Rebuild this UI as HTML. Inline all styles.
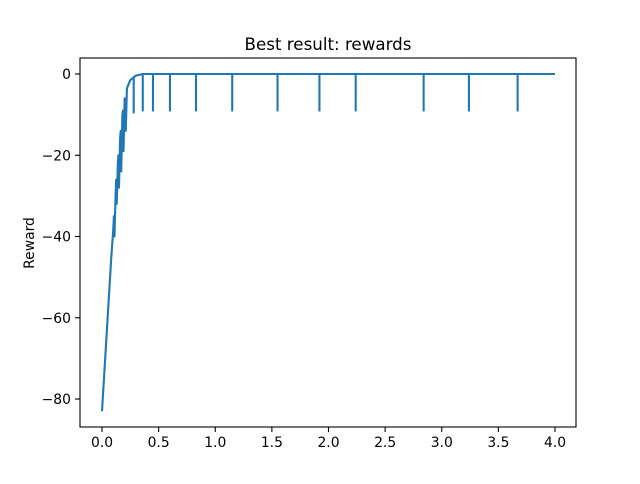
<!DOCTYPE html>
<html><head><meta charset="utf-8"><style>
body{margin:0;background:#fff;font-family:"DejaVu Sans","Liberation Sans",sans-serif}
</style></head><body>
<svg id="chart" width="640" height="480" xmlns="http://www.w3.org/2000/svg" font-family="DejaVu Sans, Liberation Sans, sans-serif">
<rect width="640" height="480" fill="#fff"/>
<text x="328" y="50" text-anchor="middle" font-size="16.7">Best result: rewards</text>
<text transform="translate(34,243) rotate(-90)" text-anchor="middle" font-size="13.9">Reward</text>
<g id="marks"></g>
<rect x="80" y="58" width="496" height="369" fill="none" stroke="#000" stroke-width="1.1"/>
<g id="axes"></g>
</svg>
<script>
const xVals=[0,0.08,0.10,0.105,0.11,0.12,0.125,0.13,0.14,0.145,0.15,0.16,0.165,0.17,0.18,0.185,0.19,0.2,0.205,0.21,0.22,0.25,0.28,0.28,0.28,0.3,0.36,0.36,0.36,0.45,0.45,0.45,0.6,0.6,0.6,0.83,0.83,0.83,1.15,1.15,1.15,1.55,1.55,1.55,1.92,1.92,1.92,2.24,2.24,2.24,2.84,2.84,2.84,3.24,3.24,3.24,3.67,3.67,3.67,4.0];
const yVals=[-83,-46,-38,-35,-40,-30,-26,-32,-22,-20,-28,-16,-14,-24,-10,-9,-19,-6,-6,-14,-3.5,-1.5,-0.8,-9.5,-0.8,-0.4,0,-9,0,0,-9,0,0,-9,0,0,-9,0,0,-9,0,0,-9,0,0,-9,0,0,-9,0,0,-9,0,0,-9,0,0,-9,0,0];
const xTicks=[0,0.5,1,1.5,2,2.5,3,3.5,4];
const yTicks=[0,-20,-40,-60,-80];
const X=v=>102+v*113.25, Y=v=>74-v*4.0625;
const ns="http://www.w3.org/2000/svg";
const marks=document.getElementById('marks'), axes=document.getElementById('axes');
const p=document.createElementNS(ns,'polyline');


p.setAttribute('points',xVals.map((x,i)=>X(x)+','+Y(yVals[i])).join(' '));
p.setAttribute('fill','none');p.setAttribute('stroke','#1f77b4');p.setAttribute('stroke-width','2.1');p.setAttribute('stroke-linejoin','round');
marks.appendChild(p);
xTicks.forEach(t=>{
 const l=document.createElementNS(ns,'line');
 
 
 l.setAttribute('x1',X(t));l.setAttribute('x2',X(t));l.setAttribute('y1',427);l.setAttribute('y2',432);l.setAttribute('stroke','#000');l.setAttribute('stroke-width','1.1');
 axes.appendChild(l);
 const s=document.createElementNS(ns,'text');
 
 
 s.setAttribute('x',X(t));s.setAttribute('y',447);s.setAttribute('text-anchor','middle');s.setAttribute('font-size','13.9');
 s.textContent=t.toFixed(1);axes.appendChild(s);
});
yTicks.forEach(t=>{
 const l=document.createElementNS(ns,'line');
 
 
 l.setAttribute('x1',75);l.setAttribute('x2',80);l.setAttribute('y1',Y(t));l.setAttribute('y2',Y(t));l.setAttribute('stroke','#000');l.setAttribute('stroke-width','1.1');
 axes.appendChild(l);
 const s=document.createElementNS(ns,'text');
 
 
 s.setAttribute('x',71);s.setAttribute('y',Y(t)+5);s.setAttribute('text-anchor','end');s.setAttribute('font-size','13.9');
 s.textContent=t<0?'\u2212'+Math.abs(t):String(t);axes.appendChild(s);
});
</script>
</body></html>
